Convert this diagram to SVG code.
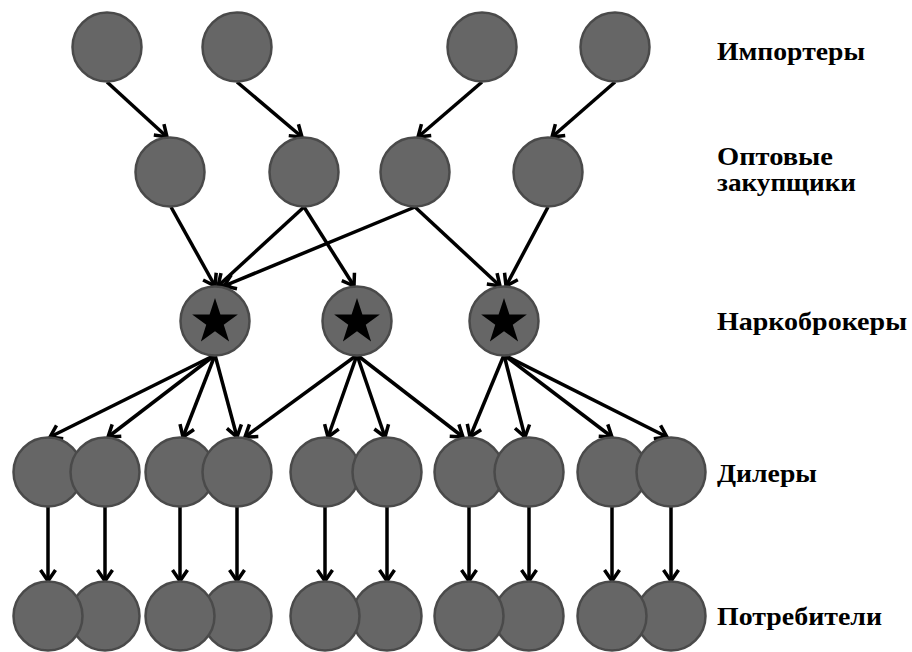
<svg xmlns="http://www.w3.org/2000/svg" xmlns:xlink="http://www.w3.org/1999/xlink" width="912" height="652" viewBox="0 0 912 652">
<style>
.n{fill:#666666;stroke:#4a4a4a;stroke-width:2.5}
.e line{stroke:#000;stroke-width:3.5;marker-end:url(#ah)}
.lbl{font-family:"Liberation Serif","Times New Roman",serif;font-weight:bold;font-size:25px;fill:#000}
.st{fill:#000}
</style>
<defs>
<marker id="ah" viewBox="-15 -10 18 20" markerWidth="18" markerHeight="20" refX="0" refY="0" orient="auto" markerUnits="userSpaceOnUse">
<path d="M-11,-7.5 L0,0 L-11,7.5" fill="none" stroke="#000" stroke-width="3.5" stroke-linejoin="miter"/>
</marker>
<polygon id="star" points="0,-24 5.41,-7.44 22.83,-7.42 8.75,2.84 14.11,19.42 0,9.2 -14.11,19.42 -8.75,2.84 -22.83,-7.42 -5.41,-7.44"/>
</defs>
<rect width="912" height="652" fill="#fff"/>
<g id="connectors" class="e">
<line x1="107" y1="82" x2="167" y2="137"/>
<line x1="237" y1="82" x2="302" y2="137"/>
<line x1="482" y1="82" x2="418" y2="137"/>
<line x1="615" y1="82" x2="552" y2="137"/>
<line x1="171" y1="207" x2="215" y2="286"/>
<line x1="304" y1="207" x2="218" y2="286"/>
<line x1="304" y1="207" x2="354" y2="286"/>
<line x1="415" y1="207" x2="224" y2="286"/>
<line x1="415" y1="207" x2="500" y2="286"/>
<line x1="548" y1="207" x2="506" y2="286"/>
<line x1="215" y1="355" x2="50" y2="437"/>
<line x1="215" y1="355" x2="108" y2="437"/>
<line x1="215" y1="355" x2="183" y2="437"/>
<line x1="215" y1="355" x2="237" y2="437"/>
<line x1="357" y1="355" x2="245" y2="437"/>
<line x1="357" y1="355" x2="328" y2="437"/>
<line x1="357" y1="355" x2="385" y2="437"/>
<line x1="357" y1="355" x2="463" y2="437"/>
<line x1="504" y1="355" x2="470" y2="437"/>
<line x1="504" y1="355" x2="525" y2="437"/>
<line x1="504" y1="355" x2="612" y2="437"/>
<line x1="504" y1="355" x2="667" y2="437"/>
<line x1="48" y1="507" x2="48" y2="581"/>
<line x1="105" y1="507" x2="105" y2="581"/>
<line x1="180" y1="507" x2="180" y2="581"/>
<line x1="237" y1="507" x2="237" y2="581"/>
<line x1="325" y1="507" x2="325" y2="581"/>
<line x1="387" y1="507" x2="387" y2="581"/>
<line x1="469" y1="507" x2="469" y2="581"/>
<line x1="529" y1="507" x2="529" y2="581"/>
<line x1="612" y1="507" x2="612" y2="581"/>
<line x1="671" y1="507" x2="671" y2="581"/>
</g>
<g id="importer-1"><circle class="n" cx="107" cy="47" r="34.5"/></g>
<g id="importer-2"><circle class="n" cx="237" cy="47" r="34.5"/></g>
<g id="importer-3"><circle class="n" cx="482" cy="47" r="34.5"/></g>
<g id="importer-4"><circle class="n" cx="615" cy="47" r="34.5"/></g>
<g id="wholesaler-1"><circle class="n" cx="170" cy="172" r="34.5"/></g>
<g id="wholesaler-2"><circle class="n" cx="304" cy="172" r="34.5"/></g>
<g id="wholesaler-3"><circle class="n" cx="415" cy="172" r="34.5"/></g>
<g id="wholesaler-4"><circle class="n" cx="548" cy="172" r="34.5"/></g>
<g id="broker-1"><circle class="n" cx="215" cy="321" r="34.5"/><use href="#star" xlink:href="#star" class="st" x="215" y="322"/></g>
<g id="broker-2"><circle class="n" cx="357" cy="321" r="34.5"/><use href="#star" xlink:href="#star" class="st" x="357" y="322"/></g>
<g id="broker-3"><circle class="n" cx="504" cy="321" r="34.5"/><use href="#star" xlink:href="#star" class="st" x="504" y="322"/></g>
<g id="dealer-1"><circle class="n" cx="48" cy="472" r="34.5"/></g>
<g id="dealer-2"><circle class="n" cx="105" cy="472" r="34.5"/></g>
<g id="dealer-3"><circle class="n" cx="180" cy="472" r="34.5"/></g>
<g id="dealer-4"><circle class="n" cx="237" cy="472" r="34.5"/></g>
<g id="dealer-5"><circle class="n" cx="325" cy="472" r="34.5"/></g>
<g id="dealer-6"><circle class="n" cx="387" cy="472" r="34.5"/></g>
<g id="dealer-7"><circle class="n" cx="469" cy="472" r="34.5"/></g>
<g id="dealer-8"><circle class="n" cx="529" cy="472" r="34.5"/></g>
<g id="dealer-9"><circle class="n" cx="612" cy="472" r="34.5"/></g>
<g id="dealer-10"><circle class="n" cx="671" cy="472" r="34.5"/></g>
<g id="consumer-2"><circle class="n" cx="105" cy="616" r="34.5"/></g>
<g id="consumer-1"><circle class="n" cx="48" cy="616" r="34.5"/></g>
<g id="consumer-4"><circle class="n" cx="237" cy="616" r="34.5"/></g>
<g id="consumer-3"><circle class="n" cx="180" cy="616" r="34.5"/></g>
<g id="consumer-6"><circle class="n" cx="387" cy="616" r="34.5"/></g>
<g id="consumer-5"><circle class="n" cx="325" cy="616" r="34.5"/></g>
<g id="consumer-8"><circle class="n" cx="529" cy="616" r="34.5"/></g>
<g id="consumer-7"><circle class="n" cx="469" cy="616" r="34.5"/></g>
<g id="consumer-10"><circle class="n" cx="671" cy="616" r="34.5"/></g>
<g id="consumer-9"><circle class="n" cx="612" cy="616" r="34.5"/></g>
<g id="labels">
<text class="lbl" x="717" y="60" textLength="148" lengthAdjust="spacingAndGlyphs">Импортеры</text>
<text class="lbl" x="717" y="165" textLength="116" lengthAdjust="spacingAndGlyphs">Оптовые</text>
<text class="lbl" x="717" y="191" textLength="139" lengthAdjust="spacingAndGlyphs">закупщики</text>
<text class="lbl" x="717" y="330" textLength="190" lengthAdjust="spacingAndGlyphs">Наркоброкеры</text>
<text class="lbl" x="717" y="482" textLength="100" lengthAdjust="spacingAndGlyphs">Дилеры</text>
<text class="lbl" x="717" y="625" textLength="165" lengthAdjust="spacingAndGlyphs">Потребители</text>
</g>
</svg>
